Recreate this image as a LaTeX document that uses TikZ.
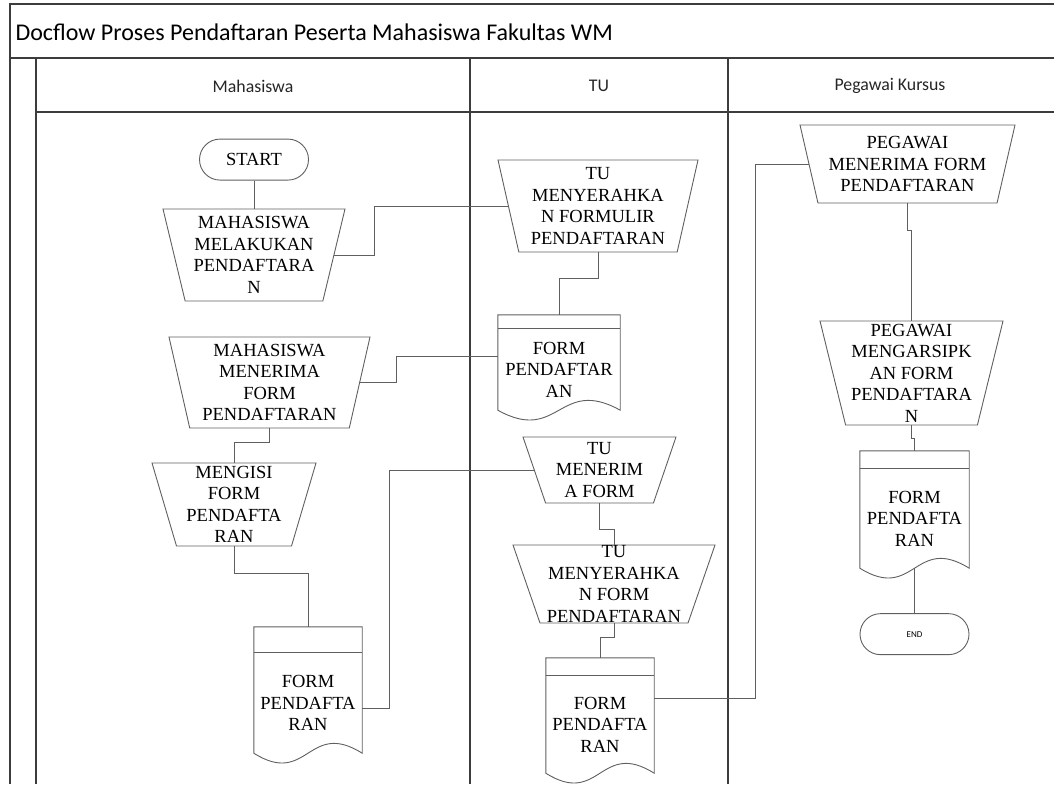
\documentclass[tikz,border=0pt]{standalone}
\usepackage{fontspec}
\setmainfont{Liberation Serif}
\newfontfamily\lanefont{Carlito}
\usetikzlibrary{positioning,shapes.geometric,shapes.misc,calc}

\definecolor{shapeline}{RGB}{95,95,95}
\definecolor{laneline}{RGB}{60,60,60}

\tikzset{
  proc/.style={trapezium, shape border rotate=180, trapezium stretches body,
    draw=shapeline, line width=0.9pt, inner sep=0pt, align=center,
    font=\fontsize{18.5}{21.5}\selectfont},
  doc/.style={rectangle, inner sep=0pt, align=center,
    font=\fontsize{18.5}{21.5}\selectfont},
  term/.style={rounded rectangle, draw=shapeline, line width=0.9pt,
    minimum width=109pt, minimum height=41pt, inner sep=0pt,
    font=\fontsize{18.5}{21.5}\selectfont},
  flow/.style={draw=shapeline, line width=0.9pt},
  lane/.style={draw=laneline, line width=1.1pt},
  lanetitle/.style={font=\lanefont\fontsize{17.8}{21}\selectfont, text=black!85},
}

% outline of a form: node name, depth of the band on top
\newcommand{\formoutline}[2]{%
  \draw[flow] ($(#1.north west)+(0,-#2)$) -- ($(#1.north east)+(0,-#2)$)
    -- (#1.south east)
    .. controls ($(#1.south west)!0.5!(#1.south east)+(0,-34)$)
    and ($(#1.south west)!0.5!(#1.south east)+(0,34)$) .. (#1.south west)
    -- cycle;
  \draw[flow] (#1.north west) -- (#1.north east);
}

\begin{document}
\begin{tikzpicture}[x=1pt,y=-1pt]
\useasboundingbox (0,0) rectangle (1054,784);

% swimlanes
\draw[lane] (10,784) -- (10,4) -- (1054,4);
\draw[lane] (10,58) -- (1054,58);
\draw[lane] (36,112) -- (1054,112);
\draw[lane] (36,58) -- (36,784);
\draw[lane] (470,58) -- (470,784);
\draw[lane] (728,58) -- (728,784);

\node[anchor=west, font=\lanefont\fontsize{24}{28}\selectfont] (title) at (12,32)
  {Docflow Proses Pendaftaran Peserta Mahasiswa Fakultas WM};
\node[lanetitle] (lmhs) at (253,86) {Mahasiswa};
\node[lanetitle] (ltu) at (599,86) {TU};
\node[lanetitle] (lpeg) at (890,86) {Pegawai Kursus};

% Mahasiswa
\node[proc, minimum width=182pt, minimum height=92pt, trapezium angle=73.9]
  (mhs1) at (254,255) {MAHASISWA\\MELAKUKAN\\PENDAFTARA\\N};
\node[term, above=28pt of mhs1] (start) {START};
\node[proc, minimum width=201pt, minimum height=91pt, trapezium angle=74.9]
  (mhs2) at (269.5,382.5) {MAHASISWA\\MENERIMA\\FORM\\PENDAFTARAN};
\node[proc, minimum width=164pt, minimum height=83pt, trapezium angle=72.3]
  (mhs3) at (234,504.5) {MENGISI\\FORM\\PENDAFTA\\RAN};
\node[doc, minimum width=108pt, minimum height=100pt] (fmm) at (308,703)
  {FORM\\PENDAFTA\\RAN};

% TU
\node[proc, minimum width=200pt, minimum height=92pt, trapezium angle=74.8]
  (tu1) at (598,206) {TU\\MENYERAHKA\\N FORMULIR\\PENDAFTARAN};
\node[doc, minimum width=122pt, minimum height=81pt] (fmt1) at (559,369.5)
  {FORM\\PENDAFTAR\\AN};
\node[proc, minimum width=153pt, minimum height=66pt, trapezium angle=67.8]
  (tu2) at (599.5,470) {TU\\MENERIM\\A FORM};
\node[proc, minimum width=202pt, minimum height=78pt, trapezium angle=70.6]
  (tu3) at (614,584) {TU\\MENYERAHKA\\N FORM\\PENDAFTARAN};
\node[doc, minimum width=108pt, minimum height=97pt] (fmt2) at (600,724.5)
  {FORM\\PENDAFTA\\RAN};

% Pegawai Kursus
\node[proc, minimum width=215pt, minimum height=78pt, trapezium angle=72]
  (peg1) at (907.5,164) {PEGAWAI\\MENERIMA FORM\\PENDAFTARAN};
\node[proc, minimum width=183pt, minimum height=104pt, trapezium angle=75.4]
  (peg2) at (911.5,373) {PEGAWAI\\MENGARSIPK\\AN FORM\\PENDAFTARA\\N};
\node[doc, minimum width=109pt, minimum height=99pt] (fmp) at (914.5,518.5)
  {FORM\\PENDAFTA\\RAN};
\node[term, below=45pt of fmp, font=\lanefont\fontsize{9}{10}\selectfont] (end) {END};

\formoutline{fmm}{26}
\formoutline{fmt1}{14}
\formoutline{fmt2}{18}
\formoutline{fmp}{18}

% connectors
\draw[flow] (start.south) -- (mhs1.north);
\draw[flow] (mhs1.east) -- ++(40,0) |- (tu1.west);
\draw[flow] (tu1.south) -- ++(0,26) -| ([yshift=14pt]fmt1.north);
\draw[flow] ([yshift=13.5pt]fmt1.west) -- ++(-101,0) |- (mhs2.east);
\draw[flow] (mhs2.south) -- ++(0,14) -| (mhs3.north);
\draw[flow] (mhs3.south) -- ++(0,27) -| ([yshift=26pt]fmm.north);
\draw[flow] ([yshift=-5pt]fmm.east) -- ++(27,0) |- (tu2.west);
\draw[flow] (tu2.south) -- ++(0,26) -| (tu3.north);
\draw[flow] (tu3.south) -- ++(0,14) -| ([yshift=18pt]fmt2.north);
\draw[flow] ([yshift=26.5pt]fmt2.east) -- ++(101,0) |- (peg1.west);
\draw[flow] (peg1.south) -- ++(0,27) -| (peg2.north);
\draw[flow] (peg2.south) -- ++(0,13) -| ([yshift=18pt]fmp.north);
\draw[flow] (fmp.south) -- (end.north);
\end{tikzpicture}
\end{document}
